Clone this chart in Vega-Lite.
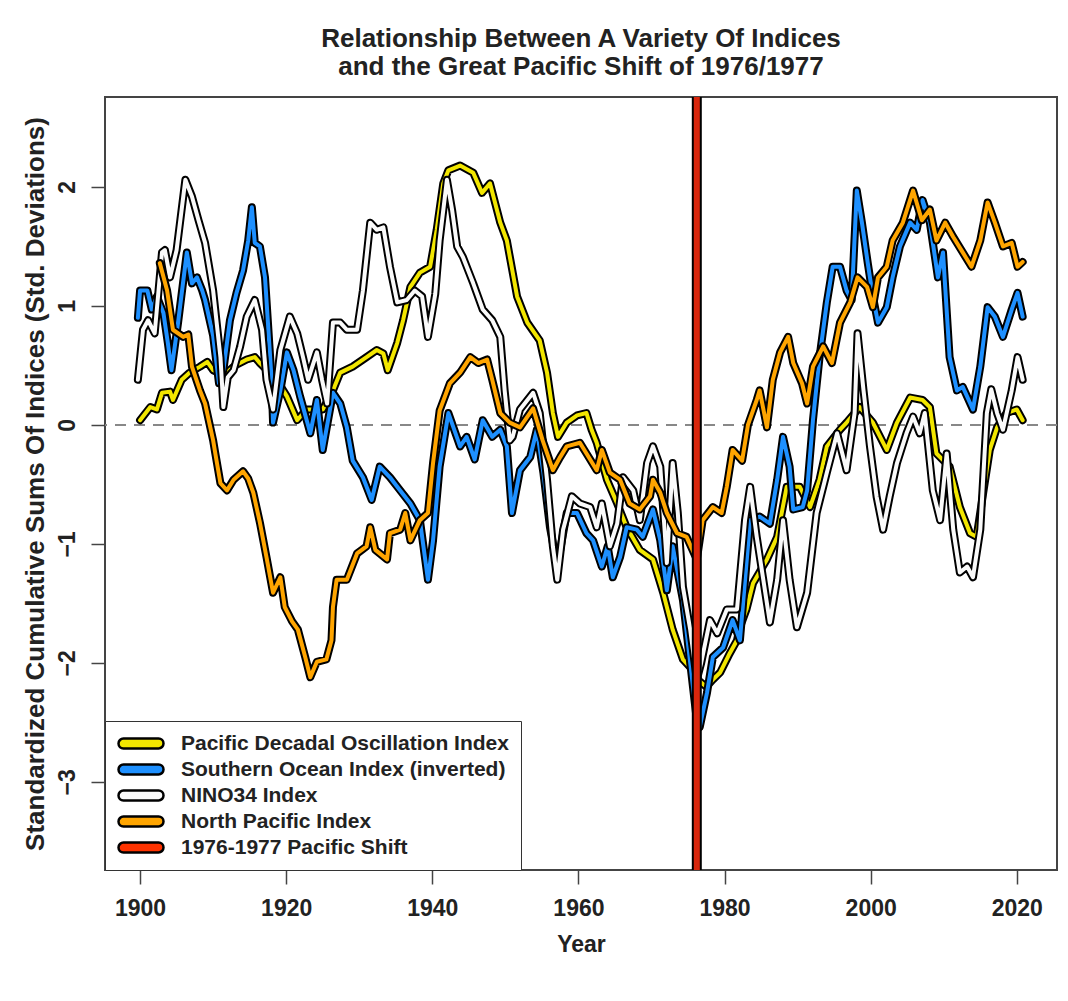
{
  "$schema": "https://vega.github.io/schema/vega-lite/v6.json",
  "autosize": {"type": "none"},
  "width": 952,
  "height": 773,
  "padding": {"left": 105, "top": 97, "right": 11, "bottom": 131},
  "background": "white",
  "title": {
    "text": ["Relationship Between A Variety Of Indices", "and the Great Pacific Shift of 1976/1977"],
    "anchor": "middle",
    "font": "Liberation Sans",
    "fontSize": 26,
    "fontWeight": "bold",
    "color": "#222222",
    "lineHeight": 28,
    "offset": 12
  },
  "config": {
    "font": "Liberation Sans",
    "view": {"stroke": "#444444", "strokeWidth": 2},
    "axis": {
      "grid": false,
      "domain": false,
      "tickColor": "#444444",
      "tickWidth": 1.5,
      "tickSize": 14,
      "labelFont": "Liberation Sans",
      "labelFontSize": 23,
      "labelFontWeight": "bold",
      "labelColor": "#222222",
      "titleFont": "Liberation Sans",
      "titleFontSize": 23,
      "titleFontWeight": "bold",
      "titleColor": "#222222"
    },
    "legend": {
      "orient": "bottom-left",
      "offset": 0,
      "padding": 12,
      "strokeColor": "#333333",
      "fillColor": "white",
      "labelFont": "Liberation Sans",
      "labelFontSize": 21,
      "labelFontWeight": "bold",
      "labelColor": "#222222",
      "labelLimit": 500,
      "symbolType": "M-0.78,-0.22L0.78,-0.22A0.22,0.22,0,0,1,0.78,0.22L-0.78,0.22A0.22,0.22,0,0,1,-0.78,-0.22Z",
      "symbolSize": 2025,
      "symbolStrokeWidth": 2.5,
      "symbolStrokeColor": "black",
      "clipHeight": 21,
      "rowPadding": 4,
      "labelOffset": 16
    }
  },
  "datasets": {
    "pdo": [
      {"year":1900.0,"value":0.04},{"year":1901.4,"value":0.15},{"year":1902.3,"value":0.13},{"year":1903.0,"value":0.27},{"year":1904.1,"value":0.28},{"year":1904.5,"value":0.21},{"year":1905.7,"value":0.38},{"year":1906.8,"value":0.44},{"year":1908.2,"value":0.49},{"year":1909.2,"value":0.53},{"year":1910.0,"value":0.46},{"year":1911.5,"value":0.42},{"year":1913.0,"value":0.5},{"year":1914.6,"value":0.55},{"year":1915.7,"value":0.57},{"year":1916.4,"value":0.52},{"year":1918.7,"value":0.38},{"year":1920.1,"value":0.24},{"year":1921.5,"value":0.04},{"year":1922.8,"value":0.13},{"year":1925.0,"value":0.13},{"year":1926.4,"value":0.29},{"year":1927.4,"value":0.44},{"year":1929.1,"value":0.49},{"year":1931.0,"value":0.57},{"year":1932.4,"value":0.63},{"year":1933.3,"value":0.6},{"year":1933.9,"value":0.46},{"year":1935.2,"value":0.69},{"year":1936.0,"value":0.88},{"year":1937.0,"value":1.16},{"year":1938.3,"value":1.28},{"year":1939.7,"value":1.33},{"year":1940.6,"value":1.64},{"year":1941.5,"value":2.03},{"year":1942.2,"value":2.14},{"year":1943.8,"value":2.18},{"year":1945.6,"value":2.12},{"year":1946.8,"value":1.95},{"year":1947.9,"value":2.03},{"year":1949.3,"value":1.7},{"year":1950.2,"value":1.55},{"year":1951.6,"value":1.08},{"year":1953.0,"value":0.86},{"year":1954.7,"value":0.71},{"year":1955.7,"value":0.44},{"year":1956.5,"value":0.1},{"year":1957.2,"value":-0.1},{"year":1958.4,"value":0.02},{"year":1959.8,"value":0.08},{"year":1961.1,"value":0.1},{"year":1961.8,"value":-0.04},{"year":1962.5,"value":-0.15},{"year":1963.9,"value":-0.46},{"year":1965.3,"value":-0.66},{"year":1966.6,"value":-0.86},{"year":1968.4,"value":-1.05},{"year":1970.2,"value":-1.13},{"year":1971.6,"value":-1.41},{"year":1972.9,"value":-1.72},{"year":1974.3,"value":-1.97},{"year":1975.5,"value":-2.05},{"year":1976.5,"value":-2.15},{"year":1977.5,"value":-2.2},{"year":1978.4,"value":-2.14},{"year":1979.4,"value":-2.08},{"year":1980.7,"value":-1.92},{"year":1981.7,"value":-1.81},{"year":1982.1,"value":-1.7},{"year":1983.0,"value":-1.55},{"year":1983.9,"value":-1.33},{"year":1985.8,"value":-1.13},{"year":1987.2,"value":-0.94},{"year":1988.5,"value":-0.52},{"year":1990.3,"value":-0.52},{"year":1991.7,"value":-0.69},{"year":1993.0,"value":-0.46},{"year":1994.0,"value":-0.18},{"year":1995.8,"value":-0.04},{"year":1996.7,"value":0.02},{"year":1998.5,"value":0.15},{"year":2000.3,"value":0.02},{"year":2002.2,"value":-0.21},{"year":2003.6,"value":0.02},{"year":2005.4,"value":0.23},{"year":2007.1,"value":0.21},{"year":2008.1,"value":0.15},{"year":2009.0,"value":-0.24},{"year":2010.8,"value":-0.35},{"year":2012.2,"value":-0.69},{"year":2013.6,"value":-0.91},{"year":2014.5,"value":-0.94},{"year":2015.4,"value":-0.57},{"year":2016.3,"value":-0.21},{"year":2017.3,"value":-0.02},{"year":2018.6,"value":0.1},{"year":2020.0,"value":0.13},{"year":2020.8,"value":0.04}
    ],
    "soi": [
      {"year":1899.7,"value":0.9},{"year":1900.0,"value":1.13},{"year":1901.0,"value":1.13},{"year":1901.6,"value":0.97},{"year":1902.3,"value":1.08},{"year":1903.2,"value":0.94},{"year":1903.8,"value":0.69},{"year":1904.3,"value":0.46},{"year":1905.2,"value":0.86},{"year":1906.4,"value":1.45},{"year":1907.1,"value":1.19},{"year":1907.8,"value":1.24},{"year":1908.5,"value":1.13},{"year":1908.9,"value":1.05},{"year":1910.0,"value":0.75},{"year":1910.8,"value":0.35},{"year":1911.4,"value":0.46},{"year":1912.3,"value":0.88},{"year":1913.2,"value":1.11},{"year":1914.1,"value":1.3},{"year":1914.8,"value":1.55},{"year":1915.3,"value":1.83},{"year":1915.7,"value":1.53},{"year":1916.4,"value":1.5},{"year":1917.1,"value":1.24},{"year":1917.5,"value":0.86},{"year":1918.0,"value":0.38},{"year":1918.2,"value":0.02},{"year":1919.2,"value":0.29},{"year":1920.1,"value":0.61},{"year":1921.0,"value":0.46},{"year":1921.9,"value":0.24},{"year":1923.3,"value":-0.07},{"year":1924.2,"value":0.21},{"year":1925.0,"value":-0.21},{"year":1926.4,"value":0.27},{"year":1927.4,"value":0.18},{"year":1928.3,"value":-0.02},{"year":1929.1,"value":-0.3},{"year":1930.5,"value":-0.44},{"year":1931.7,"value":-0.63},{"year":1932.8,"value":-0.35},{"year":1934.2,"value":-0.44},{"year":1935.6,"value":-0.55},{"year":1937.0,"value":-0.66},{"year":1938.3,"value":-0.8},{"year":1939.4,"value":-1.3},{"year":1940.1,"value":-0.97},{"year":1941.0,"value":-0.35},{"year":1942.2,"value":0.1},{"year":1943.8,"value":-0.18},{"year":1944.7,"value":-0.1},{"year":1945.8,"value":-0.29},{"year":1946.9,"value":0.04},{"year":1948.2,"value":-0.1},{"year":1949.3,"value":-0.04},{"year":1950.2,"value":-0.18},{"year":1950.9,"value":-0.74},{"year":1952.0,"value":-0.38},{"year":1953.4,"value":-0.27},{"year":1954.3,"value":-0.04},{"year":1955.2,"value":-0.4},{"year":1956.1,"value":-0.86},{"year":1957.1,"value":-1.19},{"year":1958.4,"value":-0.74},{"year":1959.8,"value":-0.74},{"year":1961.1,"value":-0.91},{"year":1962.0,"value":-0.97},{"year":1963.2,"value":-1.19},{"year":1964.0,"value":-1.02},{"year":1964.7,"value":-1.28},{"year":1965.7,"value":-1.11},{"year":1966.6,"value":-0.86},{"year":1968.0,"value":-0.88},{"year":1968.8,"value":-0.94},{"year":1970.2,"value":-0.71},{"year":1971.2,"value":-0.97},{"year":1972.1,"value":-1.39},{"year":1972.9,"value":-1.02},{"year":1974.3,"value":-1.47},{"year":1975.3,"value":-2.0},{"year":1976.2,"value":-2.48},{"year":1976.6,"value":-2.54},{"year":1977.6,"value":-2.25},{"year":1978.4,"value":-1.95},{"year":1979.8,"value":-1.87},{"year":1981.1,"value":-1.64},{"year":1982.1,"value":-1.81},{"year":1983.5,"value":-0.8},{"year":1984.8,"value":-0.77},{"year":1986.2,"value":-0.83},{"year":1987.2,"value":-0.46},{"year":1988.0,"value":-0.1},{"year":1988.9,"value":-0.35},{"year":1989.4,"value":-0.71},{"year":1990.7,"value":-0.69},{"year":1991.3,"value":-0.55},{"year":1992.1,"value":0.04},{"year":1993.0,"value":0.57},{"year":1994.0,"value":1.03},{"year":1994.8,"value":1.33},{"year":1995.8,"value":1.33},{"year":1996.7,"value":1.13},{"year":1997.4,"value":1.05},{"year":1998.1,"value":1.97},{"year":1998.8,"value":1.7},{"year":1999.6,"value":1.36},{"year":2000.3,"value":1.08},{"year":2001.0,"value":0.86},{"year":2002.2,"value":0.99},{"year":2003.0,"value":1.24},{"year":2004.0,"value":1.5},{"year":2005.4,"value":1.7},{"year":2006.3,"value":1.64},{"year":2007.1,"value":1.89},{"year":2008.1,"value":1.7},{"year":2009.2,"value":1.24},{"year":2009.9,"value":1.45},{"year":2010.8,"value":0.57},{"year":2011.8,"value":0.29},{"year":2012.6,"value":0.32},{"year":2014.0,"value":0.13},{"year":2015.0,"value":0.49},{"year":2016.0,"value":0.99},{"year":2017.0,"value":0.91},{"year":2018.1,"value":0.74},{"year":2019.3,"value":0.97},{"year":2020.1,"value":1.11},{"year":2020.8,"value":0.91}
    ],
    "nino": [
      {"year":1899.7,"value":0.38},{"year":1900.4,"value":0.8},{"year":1901.1,"value":0.88},{"year":1902.0,"value":0.77},{"year":1903.0,"value":1.45},{"year":1903.4,"value":1.47},{"year":1904.1,"value":1.24},{"year":1905.0,"value":1.47},{"year":1906.2,"value":2.06},{"year":1907.1,"value":1.92},{"year":1908.0,"value":1.72},{"year":1908.9,"value":1.53},{"year":1910.0,"value":1.13},{"year":1911.0,"value":0.57},{"year":1911.4,"value":0.15},{"year":1912.0,"value":0.4},{"year":1912.8,"value":0.46},{"year":1913.7,"value":0.66},{"year":1914.6,"value":0.91},{"year":1915.7,"value":1.05},{"year":1916.7,"value":0.8},{"year":1917.3,"value":0.38},{"year":1918.2,"value":0.13},{"year":1919.2,"value":0.63},{"year":1920.5,"value":0.91},{"year":1921.5,"value":0.77},{"year":1922.3,"value":0.57},{"year":1923.0,"value":0.38},{"year":1924.2,"value":0.61},{"year":1924.9,"value":0.38},{"year":1925.6,"value":0.18},{"year":1926.4,"value":0.86},{"year":1927.4,"value":0.86},{"year":1928.3,"value":0.8},{"year":1929.7,"value":0.8},{"year":1930.5,"value":1.13},{"year":1931.5,"value":1.7},{"year":1932.4,"value":1.64},{"year":1933.3,"value":1.66},{"year":1934.2,"value":1.33},{"year":1935.2,"value":1.03},{"year":1936.5,"value":1.05},{"year":1937.6,"value":1.13},{"year":1938.6,"value":1.08},{"year":1939.4,"value":0.74},{"year":1940.4,"value":1.1},{"year":1941.0,"value":1.55},{"year":1942.0,"value":2.06},{"year":1942.7,"value":1.81},{"year":1943.4,"value":1.5},{"year":1944.2,"value":1.41},{"year":1945.6,"value":1.19},{"year":1946.9,"value":0.97},{"year":1948.2,"value":0.88},{"year":1949.3,"value":0.74},{"year":1949.9,"value":0.29},{"year":1950.6,"value":-0.13},{"year":1951.0,"value":-0.1},{"year":1952.0,"value":0.13},{"year":1953.8,"value":0.27},{"year":1954.7,"value":0.1},{"year":1955.7,"value":-0.46},{"year":1956.5,"value":-1.02},{"year":1957.1,"value":-1.3},{"year":1957.9,"value":-0.88},{"year":1959.1,"value":-0.6},{"year":1960.2,"value":-0.66},{"year":1961.6,"value":-0.69},{"year":1962.5,"value":-0.86},{"year":1963.2,"value":-0.66},{"year":1964.3,"value":-1.02},{"year":1965.3,"value":-0.83},{"year":1966.1,"value":-0.44},{"year":1967.5,"value":-0.55},{"year":1968.4,"value":-0.8},{"year":1969.4,"value":-0.32},{"year":1970.2,"value":-0.18},{"year":1971.2,"value":-0.35},{"year":1972.1,"value":-1.16},{"year":1972.9,"value":-0.32},{"year":1973.6,"value":-0.74},{"year":1974.3,"value":-1.36},{"year":1975.3,"value":-1.72},{"year":1976.2,"value":-2.14},{"year":1976.8,"value":-2.0},{"year":1978.0,"value":-1.64},{"year":1979.0,"value":-1.75},{"year":1980.3,"value":-1.55},{"year":1981.7,"value":-1.55},{"year":1982.8,"value":-0.8},{"year":1983.5,"value":-0.52},{"year":1984.4,"value":-0.94},{"year":1986.2,"value":-1.66},{"year":1987.2,"value":-1.3},{"year":1988.0,"value":-0.8},{"year":1988.9,"value":-1.3},{"year":1989.9,"value":-1.7},{"year":1991.3,"value":-1.41},{"year":1992.6,"value":-0.74},{"year":1994.0,"value":-0.4},{"year":1995.4,"value":-0.07},{"year":1996.7,"value":-0.38},{"year":1997.8,"value":0.1},{"year":1998.2,"value":0.77},{"year":1999.0,"value":0.3},{"year":1999.9,"value":-0.18},{"year":2000.8,"value":-0.6},{"year":2001.7,"value":-0.88},{"year":2002.6,"value":-0.6},{"year":2003.6,"value":-0.32},{"year":2004.9,"value":-0.07},{"year":2005.8,"value":0.07},{"year":2006.7,"value":-0.07},{"year":2007.4,"value":0.1},{"year":2008.5,"value":-0.55},{"year":2009.5,"value":-0.8},{"year":2010.4,"value":-0.24},{"year":2011.3,"value":-0.88},{"year":2012.2,"value":-1.24},{"year":2013.2,"value":-1.19},{"year":2014.0,"value":-1.28},{"year":2015.0,"value":-0.88},{"year":2015.9,"value":0.1},{"year":2016.5,"value":0.3},{"year":2017.3,"value":0.1},{"year":2018.1,"value":-0.04},{"year":2019.3,"value":0.29},{"year":2020.1,"value":0.57},{"year":2020.8,"value":0.38}
    ],
    "npi": [
      {"year":1902.7,"value":1.36},{"year":1903.7,"value":1.13},{"year":1904.5,"value":0.8},{"year":1905.9,"value":0.74},{"year":1906.6,"value":0.76},{"year":1907.1,"value":0.49},{"year":1908.2,"value":0.29},{"year":1908.9,"value":0.18},{"year":1910.0,"value":-0.13},{"year":1910.3,"value":-0.24},{"year":1911.0,"value":-0.49},{"year":1911.9,"value":-0.55},{"year":1912.8,"value":-0.46},{"year":1914.1,"value":-0.39},{"year":1914.8,"value":-0.45},{"year":1915.5,"value":-0.57},{"year":1916.4,"value":-0.82},{"year":1917.3,"value":-1.11},{"year":1918.2,"value":-1.41},{"year":1919.2,"value":-1.28},{"year":1919.8,"value":-1.53},{"year":1920.8,"value":-1.65},{"year":1921.6,"value":-1.72},{"year":1922.6,"value":-1.95},{"year":1923.3,"value":-2.12},{"year":1924.2,"value":-1.99},{"year":1925.5,"value":-1.97},{"year":1926.2,"value":-1.81},{"year":1926.4,"value":-1.53},{"year":1926.9,"value":-1.3},{"year":1928.3,"value":-1.3},{"year":1929.7,"value":-1.08},{"year":1931.0,"value":-1.02},{"year":1931.5,"value":-0.86},{"year":1932.2,"value":-1.05},{"year":1933.8,"value":-1.13},{"year":1934.2,"value":-0.91},{"year":1935.6,"value":-0.88},{"year":1936.3,"value":-0.74},{"year":1937.0,"value":-0.97},{"year":1938.3,"value":-0.8},{"year":1939.4,"value":-0.74},{"year":1940.1,"value":-0.32},{"year":1941.0,"value":0.12},{"year":1942.4,"value":0.35},{"year":1943.8,"value":0.44},{"year":1945.2,"value":0.57},{"year":1946.3,"value":0.52},{"year":1947.5,"value":0.55},{"year":1948.2,"value":0.38},{"year":1949.3,"value":0.1},{"year":1950.6,"value":0.02},{"year":1952.0,"value":-0.02},{"year":1953.8,"value":0.14},{"year":1955.1,"value":-0.13},{"year":1956.5,"value":-0.38},{"year":1957.5,"value":-0.27},{"year":1958.4,"value":-0.18},{"year":1960.2,"value":-0.15},{"year":1961.1,"value":-0.24},{"year":1962.5,"value":-0.38},{"year":1963.2,"value":-0.21},{"year":1964.3,"value":-0.4},{"year":1965.7,"value":-0.46},{"year":1967.0,"value":-0.66},{"year":1968.4,"value":-0.71},{"year":1969.8,"value":-0.6},{"year":1970.2,"value":-0.46},{"year":1971.2,"value":-0.57},{"year":1972.1,"value":-0.74},{"year":1973.5,"value":-0.91},{"year":1974.8,"value":-0.94},{"year":1976.2,"value":-1.13},{"year":1977.0,"value":-0.8},{"year":1978.4,"value":-0.69},{"year":1979.6,"value":-0.74},{"year":1980.3,"value":-0.52},{"year":1981.1,"value":-0.21},{"year":1982.4,"value":-0.3},{"year":1983.2,"value":0.0},{"year":1984.4,"value":0.21},{"year":1984.8,"value":0.29},{"year":1985.8,"value":-0.02},{"year":1986.6,"value":0.38},{"year":1987.6,"value":0.61},{"year":1988.7,"value":0.74},{"year":1989.4,"value":0.52},{"year":1990.6,"value":0.35},{"year":1991.3,"value":0.18},{"year":1992.1,"value":0.49},{"year":1993.5,"value":0.66},{"year":1994.7,"value":0.52},{"year":1995.8,"value":0.86},{"year":1997.2,"value":1.03},{"year":1998.2,"value":1.24},{"year":1999.5,"value":1.16},{"year":2000.3,"value":0.99},{"year":2001.0,"value":1.24},{"year":2002.2,"value":1.33},{"year":2003.0,"value":1.55},{"year":2004.4,"value":1.7},{"year":2005.8,"value":1.97},{"year":2007.0,"value":1.72},{"year":2008.1,"value":1.81},{"year":2009.0,"value":1.55},{"year":2010.2,"value":1.7},{"year":2011.3,"value":1.58},{"year":2012.6,"value":1.45},{"year":2013.8,"value":1.33},{"year":2015.0,"value":1.55},{"year":2016.0,"value":1.87},{"year":2017.0,"value":1.7},{"year":2018.1,"value":1.5},{"year":2019.3,"value":1.53},{"year":2020.1,"value":1.33},{"year":2020.8,"value":1.37}
    ],
    "shift": [{"year": 1976.2}],
    "zero": [{"value": 0}],
    "legendrows": [
      {"series": "Pacific Decadal Oscillation Index", "year": 1950, "value": 0},
      {"series": "Southern Ocean Index (inverted)", "year": 1950, "value": 0},
      {"series": "NINO34 Index", "year": 1950, "value": 0},
      {"series": "North Pacific Index", "year": 1950, "value": 0},
      {"series": "1976-1977 Pacific Shift", "year": 1950, "value": 0}
    ]
  },
  "encoding": {
    "x": {"field": "year", "type": "quantitative", "scale": {"domain": [1895.2, 2025.5], "nice": false, "zero": false},
      "axis": {"values": [1900, 1920, 1940, 1960, 1980, 2000, 2020], "format": "d", "title": "Year", "labelPadding": 13, "titlePadding": 13}},
    "y": {"field": "value", "type": "quantitative", "scale": {"domain": [-3.74, 2.756], "nice": false, "zero": false},
      "axis": {"values": [-3, -2, -1, 0, 1, 2], "labelAngle": -90, "labelPadding": 12, "title": "Standardized Cumulative Sums Of Indices (Std. Deviations)", "titleFontSize": 26, "titlePadding": 8}}
  },
  "layer": [
    {"data": {"name": "zero"}, "mark": {"type": "rule", "stroke": "#888888", "strokeWidth": 2, "strokeDash": [11, 8]}, "encoding": {"x": null, "y": {"field": "value", "type": "quantitative"}}},
    {"data": {"name": "pdo"}, "mark": {"type": "line", "stroke": "black", "strokeWidth": 8, "strokeJoin": "round", "strokeCap": "round"}},
    {"data": {"name": "pdo"}, "mark": {"type": "line", "stroke": "#F2E600", "strokeWidth": 4, "strokeJoin": "round", "strokeCap": "round"}},
    {"data": {"name": "soi"}, "mark": {"type": "line", "stroke": "black", "strokeWidth": 8, "strokeJoin": "round", "strokeCap": "round"}},
    {"data": {"name": "soi"}, "mark": {"type": "line", "stroke": "#1E90FF", "strokeWidth": 4, "strokeJoin": "round", "strokeCap": "round"}},
    {"data": {"name": "nino"}, "mark": {"type": "line", "stroke": "black", "strokeWidth": 8, "strokeJoin": "round", "strokeCap": "round"}},
    {"data": {"name": "nino"}, "mark": {"type": "line", "stroke": "#FAFAFA", "strokeWidth": 4, "strokeJoin": "round", "strokeCap": "round"}},
    {"data": {"name": "npi"}, "mark": {"type": "line", "stroke": "black", "strokeWidth": 8, "strokeJoin": "round", "strokeCap": "round"}},
    {"data": {"name": "npi"}, "mark": {"type": "line", "stroke": "#FFA500", "strokeWidth": 4, "strokeJoin": "round", "strokeCap": "round"}},
    {"data": {"name": "shift"}, "mark": {"type": "rule", "stroke": "black", "strokeWidth": 10}, "encoding": {"y": null}},
    {"data": {"name": "shift"}, "mark": {"type": "rule", "stroke": "#D8260C", "strokeWidth": 6}, "encoding": {"y": null}},
    {"data": {"name": "legendrows"}, "mark": {"type": "point", "filled": true, "opacity": 0, "stroke": "black", "strokeWidth": 2.5},
      "encoding": {"fill": {"field": "series", "type": "nominal", "title": null,
        "scale": {"domain": ["Pacific Decadal Oscillation Index", "Southern Ocean Index (inverted)", "NINO34 Index", "North Pacific Index", "1976-1977 Pacific Shift"],
                  "range": ["#F2E600", "#1E90FF", "#FAFAFA", "#FFA500", "#FF3300"]}}}}
  ]
}
